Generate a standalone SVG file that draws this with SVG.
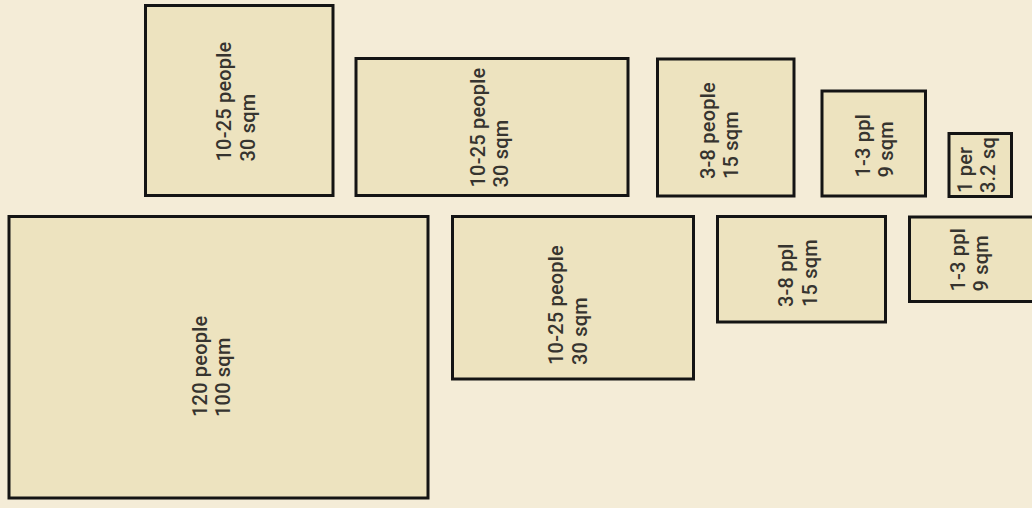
<svg xmlns="http://www.w3.org/2000/svg" width="1032" height="508" viewBox="0 0 1032 508">
<style>
.room{fill:#ede3bf;stroke:#141414;stroke-width:3}
.lbl{font-family:Roboto,"Liberation Sans",Arial,sans-serif;font-weight:500;font-size:20px;letter-spacing:0.2px;fill:#36342f}
</style>
<rect x="0" y="0" width="1032" height="508" fill="#f4ecd7"/>
<g id="room-a">
<rect class="room" x="145.5" y="5.5" width="187.5" height="190"/>
<text class="lbl" transform="translate(231,161.5) rotate(-90)"><tspan x="0" y="0">10-25 people</tspan><tspan x="0" y="24">30 sqm</tspan></text>
</g>
<g id="room-b">
<rect class="room" x="356" y="58.5" width="272" height="137"/>
<text class="lbl" transform="translate(485,187.5) rotate(-90)"><tspan x="0" y="0">10-25 people</tspan><tspan x="0" y="23">30 sqm</tspan></text>
</g>
<g id="room-c">
<rect class="room" x="657.5" y="59" width="136.5" height="137"/>
<text class="lbl" transform="translate(715,179) rotate(-90)"><tspan x="0" y="0">3-8 people</tspan><tspan x="0" y="23">15 sqm</tspan></text>
</g>
<g id="room-d">
<rect class="room" x="822" y="91" width="103.5" height="105"/>
<text class="lbl" transform="translate(870,177.5) rotate(-90)"><tspan x="0" y="0">1-3 ppl</tspan><tspan x="0" y="23">9 sqm</tspan></text>
</g>
<g id="room-e">
<rect class="room" x="949" y="133.5" width="62.5" height="63"/>
<text class="lbl" transform="translate(971.7,193) rotate(-90)"><tspan x="0" y="0">1 per</tspan><tspan x="0" y="23.3">3.2 sq</tspan></text>
</g>
<g id="room-f">
<rect class="room" x="9" y="216.5" width="419" height="281.5"/>
<text class="lbl" transform="translate(207,417) rotate(-90)"><tspan x="0" y="0">120 people</tspan><tspan x="0" y="23">100 sqm</tspan></text>
</g>
<g id="room-g">
<rect class="room" x="452.5" y="216.5" width="241" height="162.5"/>
<text class="lbl" transform="translate(563,365) rotate(-90)"><tspan x="0" y="0">10-25 people</tspan><tspan x="0" y="23.7">30 sqm</tspan></text>
</g>
<g id="room-h">
<rect class="room" x="717.5" y="216.5" width="168" height="105.5"/>
<text class="lbl" transform="translate(793,307) rotate(-90)"><tspan x="0" y="0">3-8 ppl</tspan><tspan x="0" y="24">15 sqm</tspan></text>
</g>
<g id="room-i">
<rect class="room" x="909.5" y="217" width="130" height="84.5"/>
<text class="lbl" transform="translate(965,291.5) rotate(-90)"><tspan x="0" y="0">1-3 ppl</tspan><tspan x="0" y="23">9 sqm</tspan></text>
</g>
<g id="connectors"/>
</svg>
